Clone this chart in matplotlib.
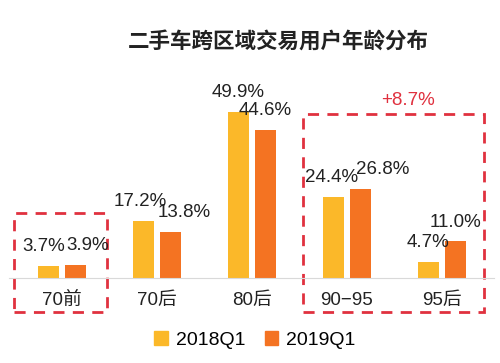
import matplotlib.pyplot as plt
from matplotlib.patches import Rectangle, Patch
import numpy as np

categories = ['70前', '70后', '80后', '90−95', '95后']
q2018 = [3.7, 17.2, 49.9, 24.4, 4.7]
q2019 = [3.9, 13.8, 44.6, 26.8, 11.0]
series_names = ['2018Q1', '2019Q1']
highlight_text = '+8.7%'

# small nudges (points) so labels sit like in the original
dx2018 = [-3, -2, 0, -1, 0]
dx2019 = [9, 10, 0, 16, 0]

yellow = '#FBB829'
orange = '#F47322'
red = '#E0313F'
fam = ['Liberation Sans', 'Noto Sans CJK SC']

fig = plt.figure(figsize=(5, 3.63), dpi=100)
ax = fig.add_axes([0.0185, 0.234, 0.97, 0.504])

x = np.arange(len(categories))
w = 0.22
off = 0.142
b1 = ax.bar(x - off, q2018, w, color=yellow)
b2 = ax.bar(x + off, q2019, w, color=orange)

for rect, v, d in zip(b1, q2018, dx2018):
    ax.annotate(f'{v:.1f}%', (rect.get_x() + rect.get_width() / 2, v),
                xytext=(d, 14), textcoords='offset points', ha='center', va='center',
                fontsize=13.5, family=fam, color='#222222')
for rect, v, d in zip(b2, q2019, dx2019):
    ax.annotate(f'{v:.1f}%', (rect.get_x() + rect.get_width() / 2, v),
                xytext=(d, 14), textcoords='offset points', ha='center', va='center',
                fontsize=13.5, family=fam, color='#222222')

ax.set_xlim(-0.55, 4.55)
ax.set_ylim(0, 55)
for s in ['top', 'right', 'left']:
    ax.spines[s].set_visible(False)
ax.spines['bottom'].set_color('#D9D9D9')
ax.set_yticks([])
ax.set_xticks(x)
ax.set_xticklabels(categories, fontsize=13.5, family=fam, color='#222222')
ax.tick_params(axis='x', length=0, pad=10)

# dashed highlight boxes
ax.add_patch(Rectangle((-0.5, -10.2), 0.98, 29.7, fill=False, ec=red, lw=2,
                       ls=(0, (4, 3)), clip_on=False))
ax.add_patch(Rectangle((2.54, -10.2), 1.9, 59.4, fill=False, ec=red, lw=2,
                       ls=(0, (4, 3)), clip_on=False))
ax.text(3.64, 53.5, highlight_text, ha='center', va='center', fontsize=13.5,
        family=fam, color=red)

fig.text(0.556, 0.884, '二手车跨区域交易用户年龄分布', ha='center', va='center',
         fontsize=15.5, fontweight='bold', family=['Noto Sans CJK SC', 'DejaVu Sans'],
         color='#222222')

handles = [Patch(color=yellow), Patch(color=orange)]
fig.legend(handles, series_names, loc='center', bbox_to_anchor=(0.51, 0.063),
           ncol=2, frameon=False, handlelength=0.7, handleheight=0.7,
           handletextpad=0.4, columnspacing=1.0,
           prop={'family': fam, 'size': 14})

fig.savefig('out.png', dpi=100)
